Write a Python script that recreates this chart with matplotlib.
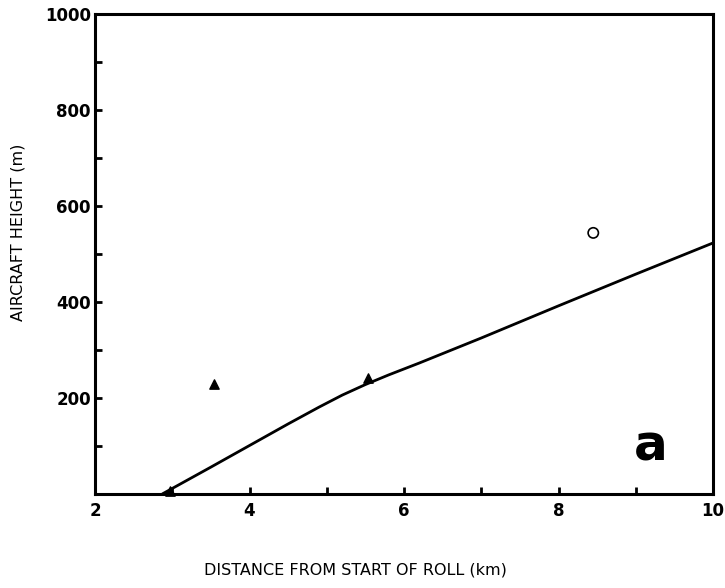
import matplotlib
matplotlib.use("Agg")
import matplotlib.pyplot as plt

# Data
tri_x = [2.97, 3.54, 5.53]
tri_y = [6, 230, 242]
circ_x = [8.45]
circ_y = [544]
line_x = [2.87, 3.5, 4.0, 4.5, 4.9, 5.2, 5.5, 5.8, 6.2, 7.0, 8.0, 9.0, 10.0]
line_y = [0, 56, 101, 146, 181, 206, 228, 248, 273, 325, 392, 458, 523]
xticks = [2, 4, 6, 8, 10]
yticks = [200, 400, 600, 800, 1000]

fig = plt.figure(figsize=(7.25, 5.88), dpi=100)
ax = fig.add_axes([95/725, 1-494/588, (713-95)/725, (494-14)/588])

ax.plot(line_x, line_y, color='black', lw=2.0, solid_capstyle='butt', solid_joinstyle='round')
ax.scatter(tri_x, tri_y, marker='^', s=45, color='black', zorder=3, clip_on=False)
ax.scatter(circ_x, circ_y, marker='o', s=55, facecolors='none', edgecolors='black', linewidths=1.2, zorder=3)

ax.set_xlim(2, 10)
ax.set_ylim(0, 1000)
ax.set_xticks(xticks)
ax.set_xticks(range(2, 11), minor=True)
ax.set_yticks(yticks)
ax.set_yticks(range(0, 1001, 100), minor=True)
ax.set_xticklabels([str(v) for v in xticks])
ax.set_yticklabels([str(v) for v in yticks])
ax.tick_params(which='both', direction='in', length=5, width=2, color='black',
               labelsize=12)
for lab in ax.get_xticklabels() + ax.get_yticklabels():
    lab.set_fontweight('bold')
ax.tick_params(axis='x', pad=6)
ax.tick_params(axis='y', pad=3)
for sp in ax.spines.values():
    sp.set_linewidth(2.2)

ax.text(9.2, 98, 'a', fontsize=36, fontweight='bold', ha='center', va='center',
        family='Liberation Sans Narrow')

fig.text(18/725, 1-232/588, 'AIRCRAFT HEIGHT (m)', rotation=90, ha='center', va='center',
         fontsize=11.5)
fig.text(355/725, 1-570/588, 'DISTANCE FROM START OF ROLL (km)', ha='center', va='center',
         fontsize=11.5)

fig.savefig('out.png', dpi=100)
